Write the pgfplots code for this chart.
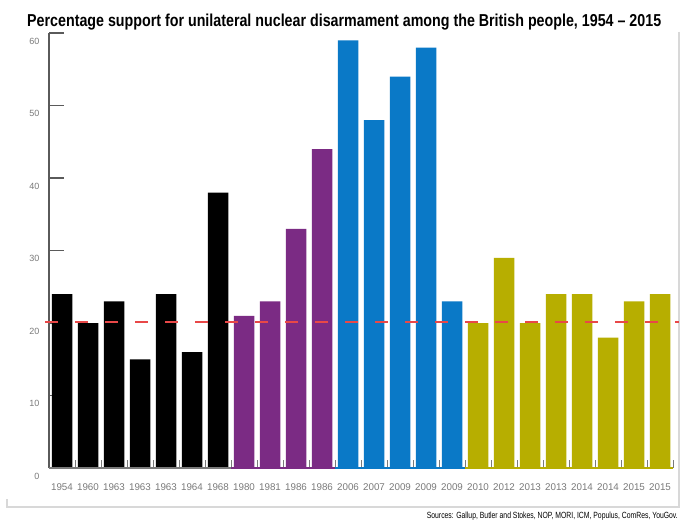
\documentclass[border=0pt]{standalone}
\usepackage{pgfplots}
\pgfplotsset{compat=1.18}
\usepackage{fontspec}
\setmainfont{Liberation Sans}
\usepackage{graphicx}

\definecolor{grpblack}{HTML}{000000}
\definecolor{grppurple}{HTML}{7B2B84}
\definecolor{grpblue}{HTML}{0A79C7}
\definecolor{grpolive}{HTML}{B7AE00}
\definecolor{ticktext}{HTML}{7A7A7A}
\definecolor{axisgray}{HTML}{5A5A5A}
\definecolor{framegray}{HTML}{D8D8D8}
\definecolor{refred}{RGB}{232,72,72}

\begin{document}
\begin{tikzpicture}
\useasboundingbox (0,0) rectangle (700pt,528pt);
\fill[white] (0,0) rectangle (700pt,528pt);

% frame lines (right and bottom)
\draw[framegray, line width=1.2pt] (679pt,496pt) -- (679pt,21pt) -- (7pt,21pt) -- (7pt,29pt);

\begin{axis}[
    at={(49pt,60pt)}, anchor=south west,
    scale only axis,
    width=624pt, height=435pt,
    xmin=-0.5, xmax=23.5,
    ymin=0, ymax=60,
    clip=false,
    axis lines=left,
    axis line style={-},
    x axis line style={draw=none},
    y axis line style={axisgray, line width=1.4pt},
    ytick={0,10,...,60},
    ytick style={axisgray, line width=1.4pt},
    tick align=inside,
    major tick length=15pt,
    yticklabel style={ticktext, font=\fontsize{9}{11}\selectfont, anchor=east, xshift=-6pt, yshift=-8pt},
    xtick={0,...,23},
    xticklabels={1954,1960,1963,1963,1963,1964,1968,1980,1981,1986,1986,2006,2007,2009,2009,2009,2010,2012,2013,2013,2014,2014,2015,2015},
    major x tick style={draw=none},
    minor xtick={0.5,1.5,...,23.5},
    minor tick length=8pt,
    minor x tick style={ticktext, line width=0.8pt},
    xticklabel style={ticktext, font=\fontsize{9.8}{11}\selectfont, yshift=-12pt},
    /pgf/number format/assume math mode=true,
]

\addplot[ybar, bar width=20.5pt, fill=grpblack, draw=none] coordinates {
    (0,24)(1,20)(2,23)(3,15)(4,24)(5,16)(6,38)
};
\addplot[ybar, bar width=20.5pt, fill=grppurple, draw=none] coordinates {
    (7,21)(8,23)(9,33)(10,44)
};
\addplot[ybar, bar width=20.5pt, fill=grpblue, draw=none] coordinates {
    (11,59)(12,48)(13,54)(14,58)(15,23)
};
\addplot[ybar, bar width=20.5pt, fill=grpolive, draw=none] coordinates {
    (16,20)(17,29)(18,20)(19,24)(20,24)(21,18)(22,23)(23,24)
};

% group baselines
\addplot[ticktext, line width=1.4pt, no marks] coordinates {(-0.5,0)(6.5,0)};
\addplot[grppurple, line width=1.4pt, no marks] coordinates {(6.5,0)(10.5,0)};
\addplot[grpblue, line width=1.4pt, no marks] coordinates {(10.5,0)(15.5,0)};
\addplot[grpolive, line width=1.4pt, no marks] coordinates {(15.5,0)(23.5,0)};

\coordinate (refA) at (axis cs:-0.65,20.2);
\coordinate (refB) at (axis cs:23.73,20.2);
\end{axis}

% reference line, on top of the bars
\draw[color=refred, line width=2pt, dash pattern=on 13pt off 17pt] (refA) -- (refB);

% title
\node[anchor=base west, inner sep=0pt] at (27pt,501pt)
  {\resizebox{634pt}{12.5pt}{\bfseries Percentage support for unilateral nuclear disarmament among the British people, 1954 -- 2015}};
% sources
\node[anchor=base east, inner sep=0pt] at (678pt,10pt)
  {\resizebox{251pt}{6.5pt}{Sources: Gallup, Butler and Stokes, NOP, MORI, ICM, Populus, ComRes, YouGov.}};
\end{tikzpicture}
\end{document}
